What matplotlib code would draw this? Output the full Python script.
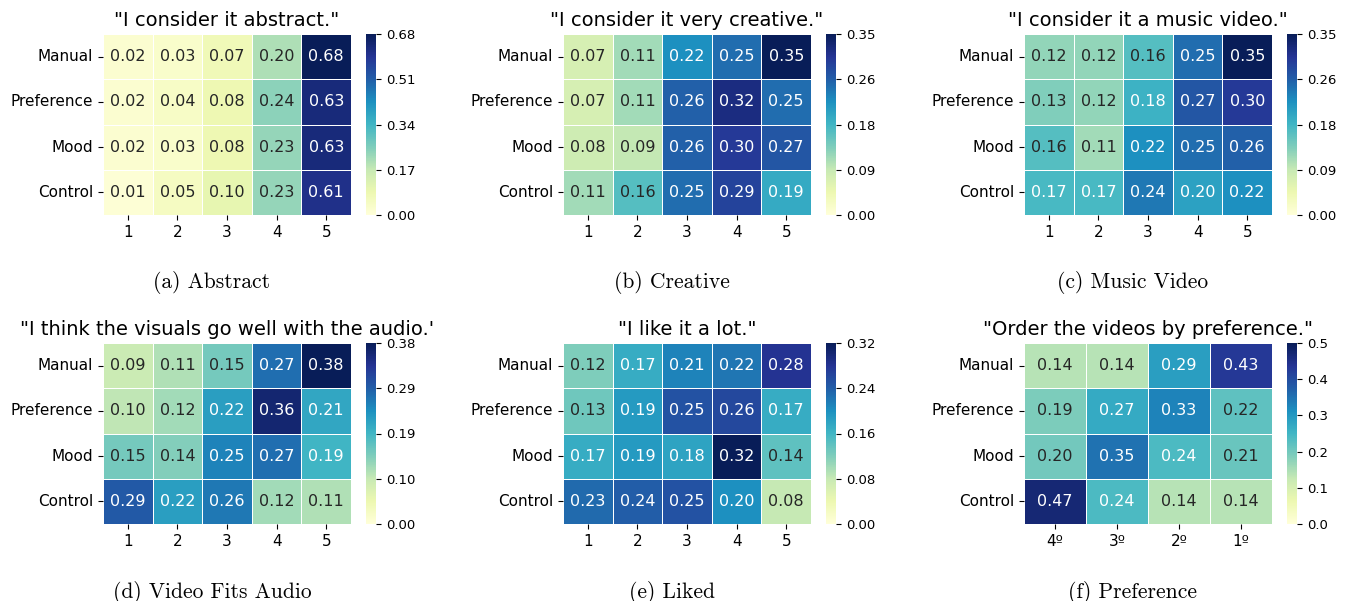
import numpy as np
import matplotlib
matplotlib.use("Agg")
import matplotlib.pyplot as plt
from matplotlib.ticker import FuncFormatter
import seaborn as sns

groups = ["Manual", "Preference", "Mood", "Control"]
likert = ["1", "2", "3", "4", "5"]
ranks = ["4º", "3º", "2º", "1º"]

abstract = [[0.02, 0.03, 0.07, 0.20, 0.68],
            [0.02, 0.04, 0.08, 0.24, 0.63],
            [0.02, 0.03, 0.08, 0.23, 0.63],
            [0.01, 0.05, 0.10, 0.23, 0.61]]
creative = [[0.07, 0.11, 0.22, 0.25, 0.35],
            [0.07, 0.11, 0.26, 0.32, 0.25],
            [0.08, 0.09, 0.26, 0.30, 0.27],
            [0.11, 0.16, 0.25, 0.29, 0.19]]
music_video = [[0.12, 0.12, 0.16, 0.25, 0.35],
               [0.13, 0.12, 0.18, 0.27, 0.30],
               [0.16, 0.11, 0.22, 0.25, 0.26],
               [0.17, 0.17, 0.24, 0.20, 0.22]]
fits_audio = [[0.09, 0.11, 0.15, 0.27, 0.38],
              [0.10, 0.12, 0.22, 0.36, 0.21],
              [0.15, 0.14, 0.25, 0.27, 0.19],
              [0.29, 0.22, 0.26, 0.12, 0.11]]
liked = [[0.12, 0.17, 0.21, 0.22, 0.28],
         [0.13, 0.19, 0.25, 0.26, 0.17],
         [0.17, 0.19, 0.18, 0.32, 0.14],
         [0.23, 0.24, 0.25, 0.20, 0.08]]
preference = [[0.14, 0.14, 0.29, 0.43],
              [0.19, 0.27, 0.33, 0.22],
              [0.20, 0.35, 0.24, 0.21],
              [0.47, 0.24, 0.14, 0.14]]

panels = [
    (abstract, likert, '"I consider it abstract."', "(a) Abstract", None),
    (creative, likert, '"I consider it very creative."', "(b) Creative", None),
    (music_video, likert, '"I consider it a music video."', "(c) Music Video", None),
    (fits_audio, likert, '"I think the visuals go well with the audio.\'', "(d) Video Fits Audio", None),
    (liked, likert, '"I like it a lot."', "(e) Liked", None),
    (preference, ranks, '"Order the videos by preference."', "(f) Preference", 0.5),
]

W, H = 1346, 601
fig = plt.figure(figsize=(W / 100, H / 100), dpi=100)

col_x = [103, 563, 1024]
row_y = [34, 343]
hm_w, hm_h = 248, 181
cb_off, cb_w = 263, 10


def box(x, y, w, h):
    return [x / W, 1 - (y + h) / H, w / W, h / H]


def half_up(decimals):
    return FuncFormatter(lambda v, pos: f"{v + 1e-9:.{decimals}f}")


for i, (data, xlabels, title, caption, vmax_fixed) in enumerate(panels):
    r, c = divmod(i, 3)
    x0, y0 = col_x[c], row_y[r]
    ax = fig.add_axes(box(x0, y0, hm_w, hm_h))
    cax = fig.add_axes(box(x0 + cb_off, y0, cb_w, hm_h))
    arr = np.array(data)
    vmax = vmax_fixed if vmax_fixed is not None else arr.max()
    sns.heatmap(arr, ax=ax, cbar_ax=cax, cmap="YlGnBu", vmin=0, vmax=vmax,
                annot=True, fmt=".2f", annot_kws={"fontsize": 11.5},
                linewidths=0.7, linecolor="white",
                xticklabels=xlabels, yticklabels=groups)
    ax.set_yticklabels(groups, rotation=0, fontsize=11)
    ax.set_xticklabels(xlabels, rotation=0, fontsize=11)
    ax.set_title(title, fontsize=14, pad=6)
    if vmax_fixed is None:
        cax.set_yticks(np.linspace(0, vmax, 5))
        cax.yaxis.set_major_formatter(half_up(2))
    else:
        cax.set_yticks(np.arange(0, vmax + 0.01, 0.1))
        cax.yaxis.set_major_formatter(half_up(1))
    cax.tick_params(labelsize=9.5)
    fig.text((x0 + 109) / W, 1 - (y0 + 249) / H, caption,
             family="cmr10", fontsize=15.5, ha="center", va="center")

fig.savefig("out.png", dpi=100)
